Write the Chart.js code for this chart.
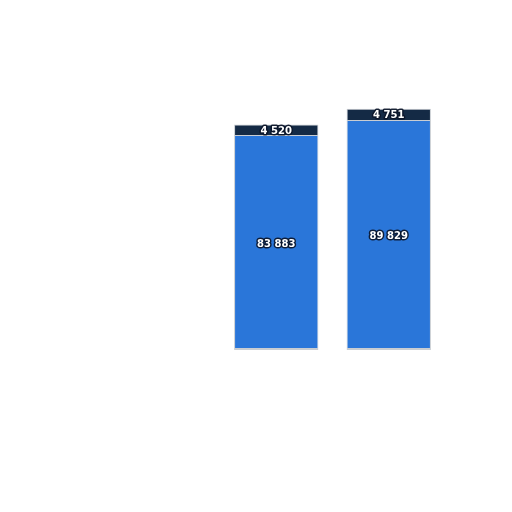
<!DOCTYPE html>
<html>
<head>
<meta charset="utf-8">
<script src="https://cdn.jsdelivr.net/npm/chart.js@4"></script>
<style>
  html, body { margin: 0; padding: 0; background: #fff; }
  canvas { display: block; }
</style>
</head>
<body>
<canvas id="chart" width="512" height="512"></canvas>
<script>
// ── Données ───────────────────────────────────────────────
const categories = ['A', 'B'];
const baseValues = [83883, 89829];
const topValues  = [4520, 4751];
const yMax = 100000;

const fmt = v => String(v).replace(/\B(?=(\d{3})+(?!\d))/g, ' ');

// ── Étiquettes dans les barres ────────────────────────────
const barLabels = {
    id: 'barLabels',
    afterDatasetsDraw(chart) {
        const ctx = chart.ctx;
        ctx.save();
        ctx.font = 'bold 10px "DejaVu Sans", sans-serif';
        ctx.textAlign = 'center';
        ctx.textBaseline = 'middle';
        ctx.lineJoin = 'round';
        chart.data.datasets.forEach((ds, di) => {
            chart.getDatasetMeta(di).data.forEach((bar, i) => {
                const y = (bar.y + bar.base) / 2 + 1;
                const txt = fmt(ds.data[i]);
                ctx.lineWidth = 3;
                ctx.strokeStyle = 'rgba(10,20,40,0.9)';
                ctx.strokeText(txt, bar.x, y);
                ctx.fillStyle = '#fff';
                ctx.fillText(txt, bar.x, y);
            });
        });
        ctx.restore();
    }
};

new Chart(document.getElementById('chart'), {
    type: 'bar',
    data: {
        labels: categories,
        datasets: [
            {
                data: baseValues,
                backgroundColor: '#2a76d9',
                borderColor: '#c9cdd2',
                borderWidth: { left: 1, right: 1, bottom: 2, top: 0 },
                borderSkipped: false,
            },
            {
                data: topValues,
                backgroundColor: '#142a45',
                borderColor: '#c9cdd2',
                borderWidth: { left: 1, right: 1, top: 1, bottom: 1 },
                borderSkipped: false,
            },
        ],
    },
    options: {
        responsive: false,
        animation: false,
        layout: { padding: { left: 220, right: 67, top: 95, bottom: 162 } },
        datasets: { bar: { categoryPercentage: 1, barPercentage: 0.75 } },
        plugins: { legend: { display: false }, tooltip: { enabled: false } },
        scales: {
            x: { display: false, stacked: true },
            y: { display: false, stacked: true, min: 0, max: yMax },
        },
    },
    plugins: [barLabels],
});
</script>
</body>
</html>
